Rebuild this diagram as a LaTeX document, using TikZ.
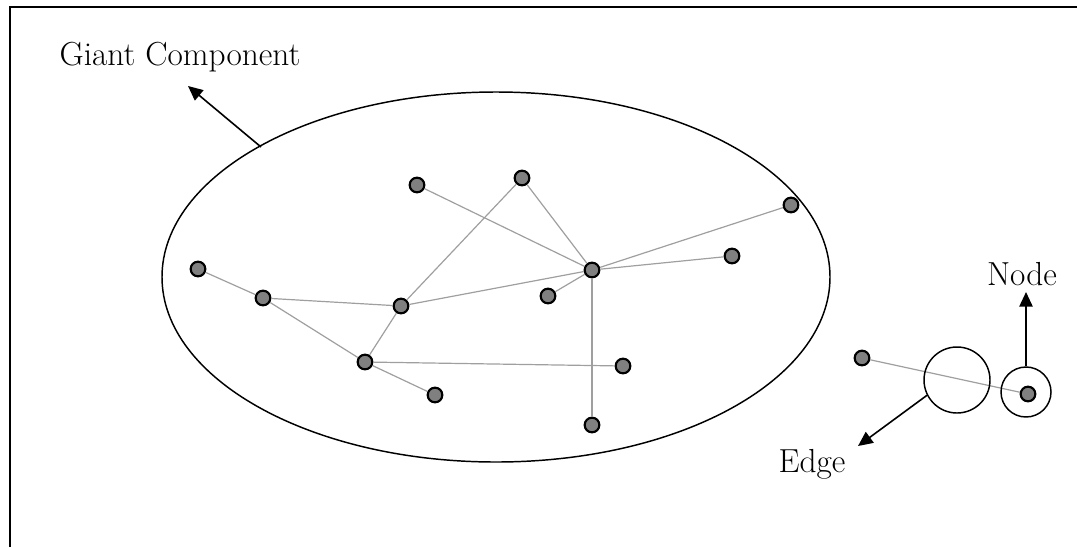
\documentclass[tikz,border=0pt]{standalone}
\usetikzlibrary{arrows.meta}
\tikzset{
  dot/.style={circle, draw=black, fill=gray, line width=1.6pt, inner sep=0pt, minimum size=11pt},
  link/.style={gray!75, line width=0.9pt},
  ring/.style={draw=black, line width=1.1pt},
  pointer/.style={-{Triangle[length=11pt,width=10pt]}, line width=1.2pt},
  lbl/.style={font=\fontsize{25}{30}\selectfont, inner sep=0pt}
}
\begin{document}
\begin{tikzpicture}[x=0.75pt,y=-0.75pt]
  \useasboundingbox (0,0) rectangle (1077,547);
  % frame
  \draw[line width=1.5pt] (10,547) -- (10,7) -- (1077,7);

  % giant component
  \draw[ring] (496,277) ellipse [x radius=334, y radius=185];
  \coordinate (gc) at (261,147);
  \node[lbl, anchor=base] (giant) at (180,65) {Giant Component};
  \draw[pointer] (gc) -- (188,86);

  % nodes
  \node[dot] (a) at (198,269) {};
  \node[dot] (b) at (263,298) {};
  \node[dot] (c) at (401,306) {};
  \node[dot] (d) at (365,362) {};
  \node[dot] (e) at (435,395) {};
  \node[dot] (f) at (417,185) {};
  \node[dot] (g) at (522,178) {};
  \node[dot] (h) at (592,270) {};
  \node[dot] (i) at (548,296) {};
  \node[dot] (j) at (791,205) {};
  \node[dot] (k) at (732,256) {};
  \node[dot] (l) at (623,366) {};
  \node[dot] (m) at (592,425) {};
  \node[dot] (p) at (862,358) {};
  \node[dot] (q) at (1028,394) {};

  % links
  \foreach \u/\v in {a/b, b/c, b/d, d/c, d/e, d/l, c/g, c/h, f/h, g/h, h/j, h/k, h/i, h/m, p/q}
    \draw[link] (\u) -- (\v);

  % callouts
  \node[ring, circle, minimum size=49.5pt, inner sep=0pt] (edgering) at (957,380) {};
  \node[ring, circle, minimum size=37.5pt, inner sep=0pt] (nodering) at (1026,392) {};
  \node[lbl, anchor=base] (nodelbl) at (1022,285) {Node};
  \node[lbl, anchor=base] (edgelbl) at (812,472) {Edge};
  \draw[pointer] (nodering.north) -- (1026,292);
  \draw[pointer] (edgering.207) -- (858,446);
\end{tikzpicture}
\end{document}
